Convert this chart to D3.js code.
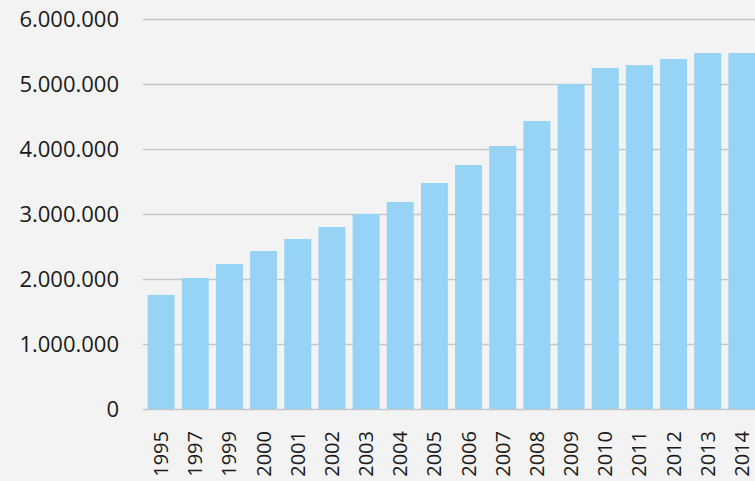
<!DOCTYPE html>
<html>
<head>
<meta charset="utf-8">
<script src="https://cdn.jsdelivr.net/npm/d3@7"></script>
<style>
  body { margin: 0; background: #f3f3f3; }
  svg { display: block; }
  text { font-family: "Open Sans", sans-serif; fill: #1a1a1a; }
</style>
</head>
<body>
<script>
// data
var years = ["1995", "1997", "1999", "2000", "2001", "2002", "2003", "2004", "2005",
             "2006", "2007", "2008", "2009", "2010", "2011", "2012", "2013", "2014"];
var values = [1755000, 2015000, 2230000, 2430000, 2615000, 2800000, 3000000, 3185000, 3477000,
              3754000, 4046000, 4430000, 5000000, 5246000, 5290000, 5385000, 5477000, 5477000];
var yTicks = [0, 1000000, 2000000, 3000000, 4000000, 5000000, 6000000];

var width = 755,
    height = 481;

var svg = d3.select("body").append("svg")
    .attr("width", width)
    .attr("height", height);

svg.append("rect")
    .attr("width", width)
    .attr("height", height)
    .attr("fill", "#f3f3f3");

var x = d3.scaleBand()
    .domain(years)
    .range([144, 759])
    .paddingInner(0.21)
    .paddingOuter(0.105);

var y = d3.scaleLinear()
    .domain([0, 6000000])
    .range([409, 19]);

// dotted thousands like the original
var fmt = function(d) { return d3.format(",")(d).replace(/,/g, "."); };

// gridlines + y labels
var yAxis = svg.append("g")
    .attr("transform", "translate(143,0)")
    .call(d3.axisRight(y).tickValues(yTicks).tickSize(width - 143).tickFormat(fmt));
yAxis.select(".domain").remove();
yAxis.selectAll(".tick line")
    .attr("stroke", "#c6c6c6")
    .attr("stroke-width", 1.5);
yAxis.selectAll(".tick text")
    .attr("x", -24)
    .attr("dy", "0.35em")
    .attr("text-anchor", "end")
    .style("font-size", "22px");

// bars
svg.append("g")
    .selectAll("rect")
    .data(values)
    .enter()
    .append("rect")
    .attr("x", function(d, i) { return x(years[i]); })
    .attr("y", function(d) { return y(d); })
    .attr("width", x.bandwidth())
    .attr("height", function(d) { return y(0) - y(d); })
    .attr("fill", "#97d3f5");

// x labels, rotated
var xAxis = svg.append("g")
    .attr("transform", "translate(0,409)")
    .call(d3.axisBottom(x).tickSize(0));
xAxis.select(".domain").remove();
xAxis.selectAll(".tick text")
    .attr("transform", "rotate(-90)")
    .attr("x", -22)
    .attr("y", 0)
    .attr("dy", "0.35em")
    .attr("text-anchor", "end")
    .style("font-size", "20px");
</script>
</body>
</html>
